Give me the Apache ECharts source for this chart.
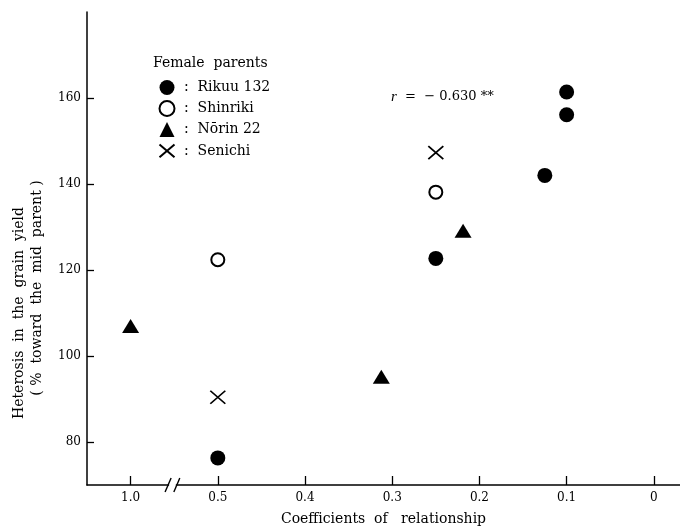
<!DOCTYPE html>
<html>
<head>
<meta charset="utf-8">
<script src="https://cdn.jsdelivr.net/npm/echarts@6/dist/echarts.min.js"></script>
<style>html,body{margin:0;padding:0;background:#fff}#c{width:680px;height:531px}</style>
</head>
<body>
<div id="c"></div>
<script>
// ---- data (x = coefficient of relationship, y = heterosis %) ----
const rikuuX = [0.5, 0.25, 0.125, 0.1, 0.1];
const rikuuY = [76.3, 122.7, 142.0, 156.1, 161.4];
const shinrikiX = [0.5, 0.25];
const shinrikiY = [122.4, 138.1];
const norinX = [1.0, 0.3125, 0.21875];
const norinY = [107.0, 95.2, 129.1];
const senichiX = [0.5, 0.25];
const senichiY = [90.4, 147.3];
const seriesNames = ['Rikuu 132', 'Shinriki', 'N\u014drin 22', 'Senichi'];
const xTickValues = [1.0, 0.5, 0.4, 0.3, 0.2, 0.1, 0];
const yTickValues = [80, 100, 120, 140, 160];

// axis break: values above the break (1.0) are drawn 0.4 closer
const BREAK_SHIFT = 0.4;
const toAxis = x => (x > 0.55 ? x - BREAK_SHIFT : x);
const fromAxis = v => (v > 0.55 ? v + BREAK_SHIFT : v);
const pts = (xs, ys) => xs.map((x, i) => [toAxis(x), ys[i]]);

const FONT = 'DejaVu Serif';
const INK = '#000';
const chart = echarts.init(document.getElementById('c'), null, {renderer: 'canvas'});

const crossPath = 'path://M0,0L14,12M14,0L0,12';

chart.setOption({
  animation: false,
  backgroundColor: '#fff',
  textStyle: {fontFamily: FONT, color: INK},
  grid: {left: 87, right: 0, top: 12, bottom: 44, containLabel: false},
  legend: {
    orient: 'vertical', left: 157, top: 80, itemGap: 5, padding: 0,
    itemWidth: 15, itemHeight: 15,
    textStyle: {fontFamily: FONT, fontSize: 14, color: INK},
    formatter: n => ' :  ' + n,
    selectedMode: false,
    data: seriesNames
  },
  xAxis: {
    type: 'value', inverse: true, min: -0.03, max: 0.65,
    splitLine: {show: false},
    axisLine: {onZero: false, lineStyle: {color: INK, width: 1.5}},
    axisTick: {show: true, inside: true, length: 9, lineStyle: {color: INK, width: 1.3},
      customValues: xTickValues.map(toAxis)},
    axisLabel: {fontFamily: FONT, fontSize: 12, color: INK, margin: 7,
      customValues: xTickValues.map(toAxis),
      formatter: v => { const r = fromAxis(v); return r === 0 ? '0' : r.toFixed(1); }},
    name: 'Coefficients  of   relationship',
    nameLocation: 'middle', nameGap: 27,
    nameTextStyle: {fontFamily: FONT, fontSize: 14, color: INK}
  },
  yAxis: {
    type: 'value', min: 70, max: 180,
    splitLine: {show: false},
    axisLine: {onZero: false, lineStyle: {color: INK, width: 1.5}},
    axisTick: {show: true, inside: true, length: 7, lineStyle: {color: INK, width: 1.3},
      customValues: yTickValues},
    axisLabel: {fontFamily: FONT, fontSize: 12, color: INK, margin: 6,
      customValues: yTickValues}
  },
  series: [
    {name: seriesNames[0], type: 'scatter', symbol: 'circle', symbolSize: 15,
      itemStyle: {color: '#000', opacity: 1}, emphasis: {disabled: true}, data: pts(rikuuX, rikuuY)},
    {name: seriesNames[1], type: 'scatter', symbol: 'circle', symbolSize: 13,
      itemStyle: {color: '#fff', borderColor: '#000', borderWidth: 2, opacity: 1}, emphasis: {disabled: true}, data: pts(shinrikiX, shinrikiY)},
    {name: seriesNames[2], type: 'scatter', symbol: 'triangle', symbolSize: [17, 14],
      itemStyle: {color: '#000', opacity: 1}, emphasis: {disabled: true}, data: pts(norinX, norinY)},
    {name: seriesNames[3], type: 'scatter', symbol: crossPath, symbolSize: [15, 13],
      itemStyle: {color: 'none', borderColor: '#000', borderWidth: 1.6, opacity: 1}, emphasis: {disabled: true}, data: pts(senichiX, senichiY)}
  ]
});

// overlay: texts and axis-break marks
const yA = chart.convertToPixel({gridIndex: 0}, [0, 70])[1];
const b1 = chart.convertToPixel({gridIndex: 0}, [0.557, 70])[0];
const b2 = chart.convertToPixel({gridIndex: 0}, [0.547, 70])[0];
chart.setOption({
  graphic: [
    {type: 'rect', shape: {x: b1 + 1, y: yA - 3, width: b2 - b1 - 2, height: 6}, style: {fill: '#fff'}, z: 100},
    {type: 'line', shape: {x1: b1 - 3, y1: yA + 7, x2: b1 + 3, y2: yA - 7}, style: {stroke: INK, lineWidth: 1.4}, z: 101},
    {type: 'line', shape: {x1: b2 - 3, y1: yA + 7, x2: b2 + 3, y2: yA - 7}, style: {stroke: INK, lineWidth: 1.4}, z: 101},
    {type: 'text', x: 153, y: 63, style: {text: 'Female  parents', font: '14px "' + FONT + '"', fill: INK, textVerticalAlign: 'middle'}, z: 100},
    {type: 'text', x: 391, y: 97, style: {
      text: '{i|r}  =  \u2212 0.630 **', fill: INK, textVerticalAlign: 'middle',
      rich: {i: {fontStyle: 'italic', fontFamily: 'Liberation Serif', fontSize: 15, fill: INK}},
      font: '13px "' + FONT + '"'}, z: 100},
    {type: 'text', x: 19, y: 313, rotation: Math.PI / 2, style: {
      text: 'Heterosis  in  the  grain  yield', font: '14px "' + FONT + '"', fill: INK,
      textAlign: 'center', textVerticalAlign: 'middle'}, z: 100},
    {type: 'text', x: 37, y: 288, rotation: Math.PI / 2, style: {
      text: '( %  toward  the  mid  parent )', font: '14px "' + FONT + '"', fill: INK,
      textAlign: 'center', textVerticalAlign: 'middle'}, z: 100}
  ]
});
</script>
</body>
</html>
